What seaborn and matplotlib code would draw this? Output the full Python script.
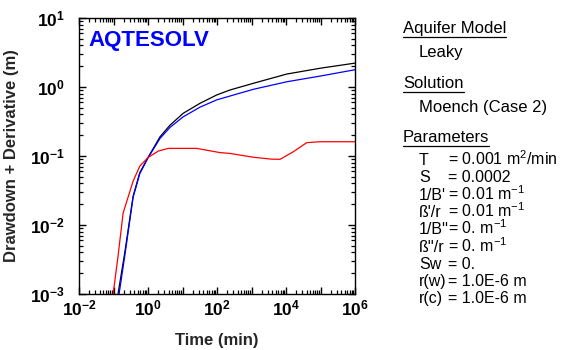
import numpy as np
import pandas as pd
import matplotlib
matplotlib.use("Agg")
import matplotlib.pyplot as plt
from matplotlib.ticker import LogLocator, FuncFormatter, NullFormatter
from matplotlib.lines import Line2D
import seaborn as sns

# Drawdown curve (black)
drawdown_t = [0.135, 0.211, 0.369, 0.575, 1.0, 2.23, 4.35, 10.5, 32.1, 97.7, 238, 1122, 10470, 97700, 891000, 1.0e6]
drawdown_s = [0.001, 0.0039, 0.026, 0.057, 0.095, 0.19, 0.28, 0.416, 0.58, 0.766, 0.905, 1.13, 1.54, 1.87, 2.2, 2.22]

# Model drawdown curve (blue)
model_t = [0.145, 0.211, 0.369, 0.575, 1.0, 2.23, 4.35, 10.5, 32.1, 97.7, 238, 1122, 10470, 97700, 891000, 1.0e6]
model_s = [0.001, 0.0035, 0.025, 0.055, 0.094, 0.18, 0.26, 0.37, 0.51, 0.65, 0.74, 0.925, 1.19, 1.44, 1.76, 1.78]

# Derivative curve (red)
deriv_t = [0.0977, 0.135, 0.19, 0.369, 0.575, 1.0, 2.0, 3.89, 25.7, 122, 238, 1122, 3800, 6760, 16200, 39800, 97700, 1.0e6]
deriv_s = [0.001, 0.0035, 0.0149, 0.043, 0.071, 0.095, 0.118, 0.129, 0.129, 0.112, 0.109, 0.096, 0.09, 0.0896, 0.115, 0.156, 0.161, 0.161]

x_limits = (1e-2, 1e6)
y_limits = (1e-3, 1e1)

sns.set_theme(style="ticks")
plt.rcParams["font.family"] = ["Liberation Sans", "DejaVu Sans"]
plt.rcParams["mathtext.fontset"] = "custom"
plt.rcParams["mathtext.rm"] = "Liberation Sans"
plt.rcParams["mathtext.it"] = "Liberation Sans:italic"
plt.rcParams["mathtext.bf"] = "Liberation Sans:bold"
plt.rcParams["xtick.minor.visible"] = True
plt.rcParams["ytick.minor.visible"] = True

W, H = 567, 350
fig = plt.figure(figsize=(W / 100, H / 100), dpi=100)
fig.patch.set_facecolor("white")
ax = fig.add_axes([79 / W, (H - 294) / H, 276 / W, 276 / H])
ax.set_facecolor("white")

ax.set_xscale("log")
ax.set_yscale("log")

series = [
    (drawdown_t, drawdown_s, "#000000"),
    (model_t, model_s, "#0000ff"),
    (deriv_t, deriv_s, "#ff0000"),
]
for tt, ss, col in series:
    df = pd.DataFrame({"t": tt, "s": ss})
    sns.lineplot(data=df, x="t", y="s", ax=ax, color=col, lw=0.9,
                 estimator=None, sort=False, legend=False)

ax.set_xlim(*x_limits)
ax.set_ylim(*y_limits)

for sp in ax.spines.values():
    sp.set_visible(True)
    sp.set_color("black")
    sp.set_linewidth(1.0)

ax.xaxis.set_major_locator(LogLocator(base=10.0, numticks=30))
ax.yaxis.set_major_locator(LogLocator(base=10.0, numticks=30))
ax.xaxis.set_minor_locator(LogLocator(base=10.0, subs=tuple(range(2, 10)), numticks=30))
ax.yaxis.set_minor_locator(LogLocator(base=10.0, subs=tuple(range(2, 10)), numticks=30))


def xfmt(v, pos):
    e = int(round(np.log10(v)))
    return r"$\mathbf{10^{%d}}$" % e if e % 2 == 0 else ""


def yfmt(v, pos):
    e = int(round(np.log10(v)))
    return r"$\mathbf{10^{%d}}$" % e


ax.xaxis.set_major_formatter(FuncFormatter(xfmt))
ax.yaxis.set_major_formatter(FuncFormatter(yfmt))
ax.xaxis.set_minor_formatter(NullFormatter())
ax.yaxis.set_minor_formatter(NullFormatter())

ax.tick_params(which="both", direction="in", top=True, right=True,
               bottom=True, left=True, labelcolor="black", labelsize=12.5)
ax.tick_params(which="major", length=5, width=1.0, color="black")
ax.tick_params(which="minor", length=3, width=0.9, color="black")
ax.tick_params(axis="x", which="major", pad=3)
ax.tick_params(axis="y", which="major", pad=10)
for tk in ax.xaxis.get_major_ticks() + ax.xaxis.get_minor_ticks() + \
        ax.yaxis.get_major_ticks() + ax.yaxis.get_minor_ticks():
    for ln in (tk.tick1line, tk.tick2line):
        ln.set_visible(True)
        ln.set_zorder(5)

ax.set_xlabel("Time (min)", fontsize=12, fontweight="bold", labelpad=11)
ax.set_ylabel("Drawdown + Derivative (m)", fontsize=12, fontweight="bold", labelpad=8)

fig.text(88 / W, 1 - 46 / H, "AQTESOLV", color="#0000ff", fontsize=16,
         fontweight="heavy", ha="left", va="baseline")


# Right-hand information panel
def fy(ypix):
    return 1 - ypix / H


txt_kw = dict(fontsize=12, color="black", va="baseline", ha="left")
par_kw = dict(fontsize=11.5, color="black", va="baseline", ha="left")
headings = [("Aquifer Model", 33), ("Solution", 88), ("Parameters", 142)]
heading_artists = []
for label, yp in headings:
    heading_artists.append((fig.text(403 / W, fy(yp), label, **txt_kw), yp))

fig.text(419 / W, fy(57), "Leaky", **txt_kw)
fig.text(419 / W, fy(112), "Moench (Case 2)", **txt_kw)

param_names = ["T", "S", "1/B'", "ß'/r", "1/B''", "ß''/r", "Sw", "r(w)", "r(c)"]
param_values = ["= 0.001 m$^{2}$/min", "= 0.0002", "= 0.01 m$^{-1}$", "= 0.01 m$^{-1}$",
                "= 0. m$^{-1}$", "= 0. m$^{-1}$", "= 0.", "= 1.0E-6 m", "= 1.0E-6 m"]
param_y = [165, 182, 200, 217, 234, 252, 269, 286, 303]
for name, val, yp in zip(param_names, param_values, param_y):
    fig.text(419 / W, fy(yp), name, **par_kw)
    fig.text(448 / W, fy(yp), val, **par_kw)

fig.canvas.draw()
renderer = fig.canvas.get_renderer()
for t, yp in heading_artists:
    bb = t.get_window_extent(renderer)
    yl = fy(yp + 4)
    fig.add_artist(Line2D([bb.x0 / W, bb.x1 / W], [yl, yl], color="black", lw=0.9,
                          transform=fig.transFigure))

fig.savefig("out.png", dpi=100, facecolor="white")
